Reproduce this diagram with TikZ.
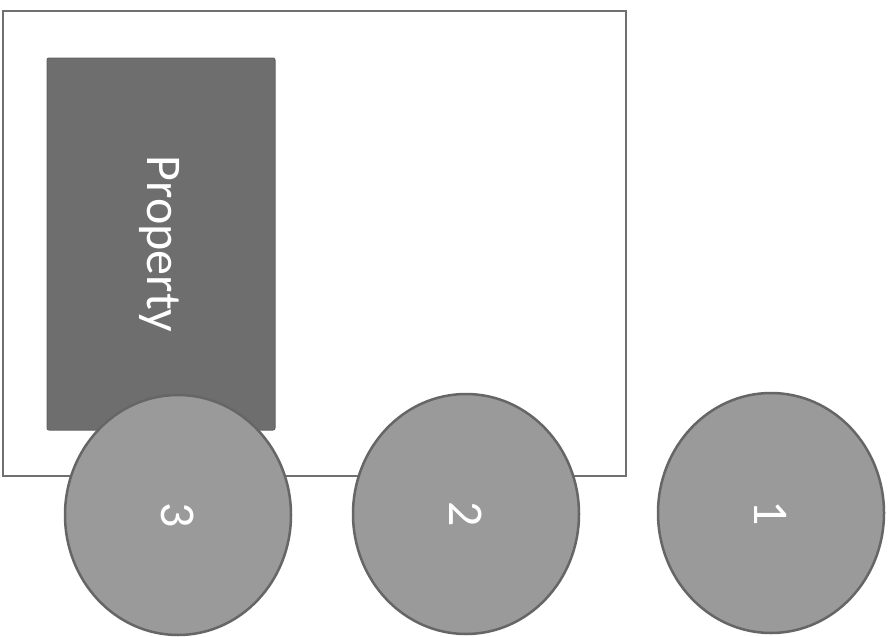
\documentclass[tikz,border=0pt]{standalone}
\usepackage{fontspec}
\usetikzlibrary{shapes.geometric}
\setmainfont{Carlito}
\definecolor{frame}{HTML}{707070}
\definecolor{darkbox}{HTML}{6E6E6E}
\definecolor{wheel}{HTML}{9A9A9A}
\definecolor{wheelline}{HTML}{666666}
\begin{document}
\begin{tikzpicture}[x=1pt,y=-1pt,
  outerbox/.style={draw=frame,line width=2.5pt,fill=white},
  propbox/.style={fill=darkbox,draw=darkbox!90!black,line width=1pt,rounded corners=2pt},
  wheelnode/.style={ellipse,fill=wheel,draw=wheelline,line width=2.5pt,minimum width=226pt,minimum height=240pt,inner sep=0pt,text=white,font=\fontsize{50}{60}\selectfont},
  proplabel/.style={text=white,font=\fontsize{50}{60}\selectfont,rotate=-90}]
\useasboundingbox (0,0) rectangle (889,637);
\fill[white] (0,0) rectangle (889,637);
\draw[outerbox] (3,11) rectangle (626,476);
\draw[propbox] (47,58) rectangle (275,430);
\node[proplabel] (prop) at (160,244) {Property};
\node[wheelnode] (w3) at (178,515) {\rotatebox{-90}{3}};
\node[wheelnode] (w2) at (466,514) {\rotatebox{-90}{2}};
\node[wheelnode] (w1) at (771,513) {\rotatebox{-90}{1}};
\end{tikzpicture}
\end{document}
